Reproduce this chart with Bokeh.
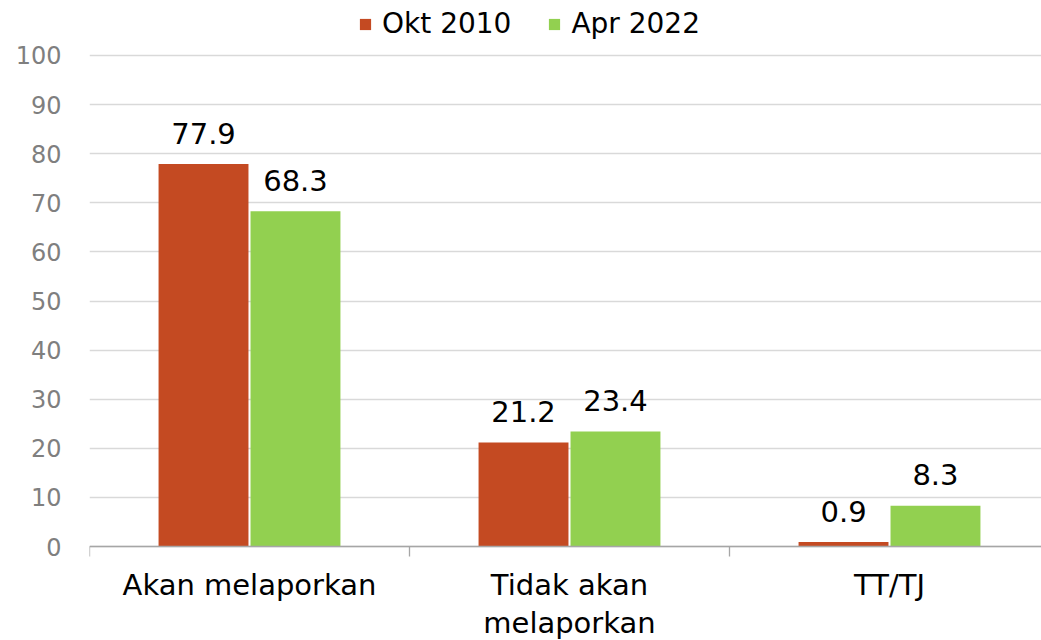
from bokeh.plotting import figure
from bokeh.models import Range1d, FixedTicker, Legend, LegendItem, ColumnDataSource
from bokeh.embed import file_html
from bokeh.resources import INLINE
from bokeh.core.properties import value

categories = ["Akan melaporkan", "Tidak akan\nmelaporkan", "TT/TJ"]
series_names = ["Okt 2010", "Apr 2022"]
okt_2010 = [77.9, 21.2, 0.9]
apr_2022 = [68.3, 23.4, 8.3]
y_ticks = [0, 10, 20, 30, 40, 50, 60, 70, 80, 90, 100]

colors = ["#C44A22", "#92D050"]
FONT = "DejaVu Sans"

p = figure(width=1041, height=640, output_backend="svg", toolbar_location=None,
           x_range=Range1d(0, 2.975), y_range=Range1d(-19.14, 111.2))
p.min_border_left = 89
p.min_border_right = 0
p.min_border_top = 0
p.min_border_bottom = 0
p.outline_line_color = None
p.background_fill_color = "white"
p.border_fill_color = "white"

centers = [i + 0.5 for i in range(len(categories))]
boundaries = [float(i) for i in range(len(categories) + 1)]
off = 0.1437
bw = 0.281

src1 = ColumnDataSource(dict(x=[c - off for c in centers], top=okt_2010,
                             lab=[f"{v:.1f}" for v in okt_2010]))
src2 = ColumnDataSource(dict(x=[c + off for c in centers], top=apr_2022,
                             lab=[f"{v:.1f}" for v in apr_2022]))

r1 = p.vbar(x="x", top="top", width=bw, source=src1, color=colors[0], line_color=None)
r2 = p.vbar(x="x", top="top", width=bw, source=src2, color=colors[1], line_color=None)

for s in (src1, src2):
    p.text(x="x", y="top", text="lab", source=s, text_align="center",
           text_baseline="alphabetic", y_offset=-31, text_font=value(FONT),
           text_font_size="29px", text_color="#000000")

# category labels (multi-line, controlled line height)
cat_src = ColumnDataSource(dict(x=centers, y=[0] * len(centers), lab=categories))
p.text(x="x", y="y", text="lab", source=cat_src, text_align="center",
       text_baseline="top", y_offset=21, text_font=value(FONT),
       text_font_size="29px", text_color="#000000", text_line_height=1.14)

# y axis
p.yaxis.ticker = FixedTicker(ticks=y_ticks)
p.yaxis.axis_line_color = None
p.yaxis.major_tick_line_color = None
p.yaxis.minor_tick_line_color = None
p.yaxis.major_label_text_font = FONT
p.yaxis.major_label_text_font_size = "24px"
p.yaxis.major_label_text_color = "#7f7f7f"
p.yaxis.major_label_standoff = 22

p.ygrid.ticker = FixedTicker(ticks=y_ticks)
p.ygrid.grid_line_color = "#d9d9d9"
p.ygrid.grid_line_width = 1.3
p.xgrid.grid_line_color = None

# x axis, fixed at y = 0; only category-boundary ticks, no labels
p.xaxis.fixed_location = 0
p.xaxis.ticker = FixedTicker(ticks=[], minor_ticks=boundaries)
p.xaxis.axis_line_color = "#a6a6a6"
p.xaxis.axis_line_width = 1.3
p.xaxis.major_tick_line_color = None
p.xaxis.major_tick_out = 0
p.xaxis.major_tick_in = 0
p.xaxis.minor_tick_line_color = "#a6a6a6"
p.xaxis.minor_tick_line_width = 1.3
p.xaxis.minor_tick_out = 10
p.xaxis.minor_tick_in = 0

legend = Legend(items=[LegendItem(label=series_names[0], renderers=[r1]),
                       LegendItem(label=series_names[1], renderers=[r2])],
                location=(269, 600), orientation="horizontal")
legend.glyph_width = 14
legend.glyph_height = 14
legend.label_text_font = FONT
legend.label_text_font_size = "28px"
legend.label_text_color = "#000000"
legend.label_standoff = 10
legend.spacing = 36
legend.padding = 0
legend.margin = 0
legend.border_line_color = None
legend.background_fill_alpha = 0
p.add_layout(legend)

open("out.html", "w").write(file_html(p, INLINE))
